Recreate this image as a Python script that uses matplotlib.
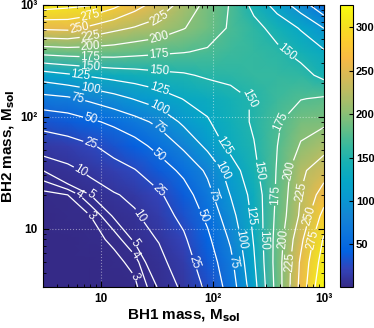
"""Contour map of the value over the two black hole masses."""

import matplotlib

matplotlib.use("Agg")
from matplotlib import pyplot as plt
from matplotlib.colors import LinearSegmentedColormap

import numpy as np

# masses on both axes (M_sol)
bh1_mass = [3, 5, 8, 13, 20, 33, 55, 90, 145, 235, 380, 620, 1000]
bh2_mass = [3, 5, 8, 13, 20, 33, 55, 90, 145, 235, 380, 620, 1000]

# values, one row per BH2 mass (bottom to top)
row_m2_3 = [1, 1.3, 1.7, 2.2, 2.7, 5.2, 11.5, 28.7, 60.5, 115.7, 185, 258, 326]
row_m2_5 = [1.3, 1.6, 2.0, 2.6, 3.4, 7.0, 16.2, 35.7, 68.5, 122, 186.6, 254, 314]
row_m2_8 = [1.7, 2.0, 2.5, 3.3, 5.3, 10.6, 21.9, 44.6, 78.5, 126.8, 185, 244, 303]
row_m2_13 = [2.2, 2.5, 3.0, 5.2, 8.5, 16.0, 30.3, 55.3, 90.6, 130.6, 181.4, 229.5, 284]
row_m2_20 = [2.6, 3.0, 5.0, 9.0, 12.6, 22.1, 38.7, 66.5, 100.8, 133.8, 178.8, 225.7, 262]
row_m2_33 = [5.0, 7.4, 12, 18, 24, 37, 55.8, 79.3, 111.5, 143.5, 176.6, 220.7, 238]
row_m2_55 = [13.5, 17, 23, 32, 41, 58, 79.6, 106, 132.9, 148.9, 174.6, 202, 217]
row_m2_90 = [32, 37, 46, 55, 66, 81, 105, 123, 138, 153, 171.7, 191.6, 195]
row_m2_145 = [66.6, 71, 80, 91, 101.5, 112.7, 126, 132, 142, 152, 165, 174, 178]
row_m2_235 = [112.8, 121, 128, 134, 138, 143.5, 147, 153.5, 156, 162, 162, 159, 143.3]
row_m2_380 = [184, 187, 188, 187, 183, 179, 176, 172, 165, 162, 155, 142, 128]
row_m2_620 = [254.2, 256, 244, 231, 223, 215, 201, 188, 172, 158, 141, 123, 99.7]
row_m2_1000 = [312, 306.8, 302, 282.7, 260.3, 238.7, 216.4, 192.5, 173.4, 142.8, 115.2, 87.3, 55]

levels = [3, 4, 5, 10, 25, 50, 75, 100, 125, 150, 175, 200, 225, 250, 275, 300]
cbar_ticks = [50, 100, 150, 200, 250, 300]
mass_ticks = [10, 100, 1000]
mass_tick_labels = ["10", "10\u00b2", "10\u00b3"]

# parula-like colormap
parula = LinearSegmentedColormap.from_list(
    "parula",
    [
        (0.2081, 0.1663, 0.5292),
        (0.1959, 0.2645, 0.7279),
        (0.0117, 0.3875, 0.8820),
        (0.0498, 0.4586, 0.8641),
        (0.0793, 0.5200, 0.8312),
        (0.0343, 0.5966, 0.8199),
        (0.0228, 0.6535, 0.7768),
        (0.0843, 0.6928, 0.7062),
        (0.2178, 0.7250, 0.6193),
        (0.3953, 0.7459, 0.5244),
        (0.5709, 0.7485, 0.4494),
        (0.7184, 0.7411, 0.3905),
        (0.8507, 0.7299, 0.3360),
        (0.9739, 0.7314, 0.2666),
        (0.9880, 0.8066, 0.1794),
        (0.9589, 0.8949, 0.1132),
        (0.9763, 0.9831, 0.0538),
    ],
)

plt.rcParams["font.family"] = ["Liberation Sans", "DejaVu Sans"]

z = np.array(
    [
        row_m2_3, row_m2_5, row_m2_8, row_m2_13, row_m2_20, row_m2_33, row_m2_55,
        row_m2_90, row_m2_145, row_m2_235, row_m2_380, row_m2_620, row_m2_1000,
    ]
)
# work in log10(mass) so shading and contours follow the log axes
lx, ly = np.meshgrid(np.log10(bh1_mass), np.log10(bh2_mass))

fig = plt.figure(figsize=(3.74, 3.28), dpi=100)
ax = fig.add_axes([0.115, 0.125, 0.751, 0.86])
cax = fig.add_axes([0.909, 0.125, 0.035, 0.86])

lo, hi = np.log10(bh1_mass[0]), np.log10(bh1_mass[-1])
ax.set_xlim(lo, hi)
ax.set_ylim(lo, hi)

mesh = ax.pcolormesh(
    lx, ly, z, shading="gouraud", cmap=parula, vmin=z.min(), vmax=z.max()
)
cs = ax.contour(lx, ly, z, levels=levels, colors="white", linewidths=0.9)

# matlab-like label spacing: a label every ~80 px along each line,
# kept away from the frame so no label gets clipped
box = ax.get_window_extent()
label_pos = []
for segs in cs.allsegs:
    for seg in segs:
        pts = ax.transData.transform(seg)
        dist = np.concatenate([[0], np.cumsum(np.hypot(*np.diff(pts, axis=0).T))])
        for s in np.arange(34, dist[-1] - 12, 80):
            i = np.searchsorted(dist, s)
            px, py = pts[i]
            if min(px - box.x0, box.x1 - px, py - box.y0, box.y1 - py) < 9:
                continue
            label_pos.append(tuple(seg[i]))
ax.clabel(cs, fmt="%d", fontsize=8.5, inline=True, inline_spacing=1, manual=label_pos)

minor = np.log10([d * k for d in (1, 10, 100) for k in range(2, 10) if 3 <= d * k < 1000])
ax.set_xticks(np.log10(mass_ticks))
ax.set_xticklabels(mass_tick_labels)
ax.set_yticks(np.log10(mass_ticks))
ax.set_yticklabels(mass_tick_labels)
ax.set_xticks(minor, minor=True)
ax.set_yticks(minor, minor=True)
ax.tick_params(which="both", direction="in", top=True, right=True, labelsize=8.5)
ax.tick_params(which="major", length=4, pad=4)
ax.tick_params(which="minor", length=2)
for lbl in ax.get_xticklabels() + ax.get_yticklabels():
    lbl.set_fontweight("bold")
ax.grid(True, which="major", color="white", alpha=0.45, linestyle=":", linewidth=0.8)

ax.set_xlabel("BH1 mass, M$_{\\mathbf{sol}}$", fontsize=11, fontweight="bold")
ax.set_ylabel("BH2 mass, M$_{\\mathbf{sol}}$", fontsize=11, fontweight="bold")
ax.xaxis.set_label_coords(0.5, -0.073)
ax.yaxis.set_label_coords(-0.092, 0.5)

cbar = fig.colorbar(mesh, cax=cax, ticks=cbar_ticks)
cbar.ax.tick_params(direction="in", labelsize=8, length=3, pad=2)
for lbl in cbar.ax.get_yticklabels():
    lbl.set_fontweight("bold")

fig.savefig("out.png", dpi=100)
